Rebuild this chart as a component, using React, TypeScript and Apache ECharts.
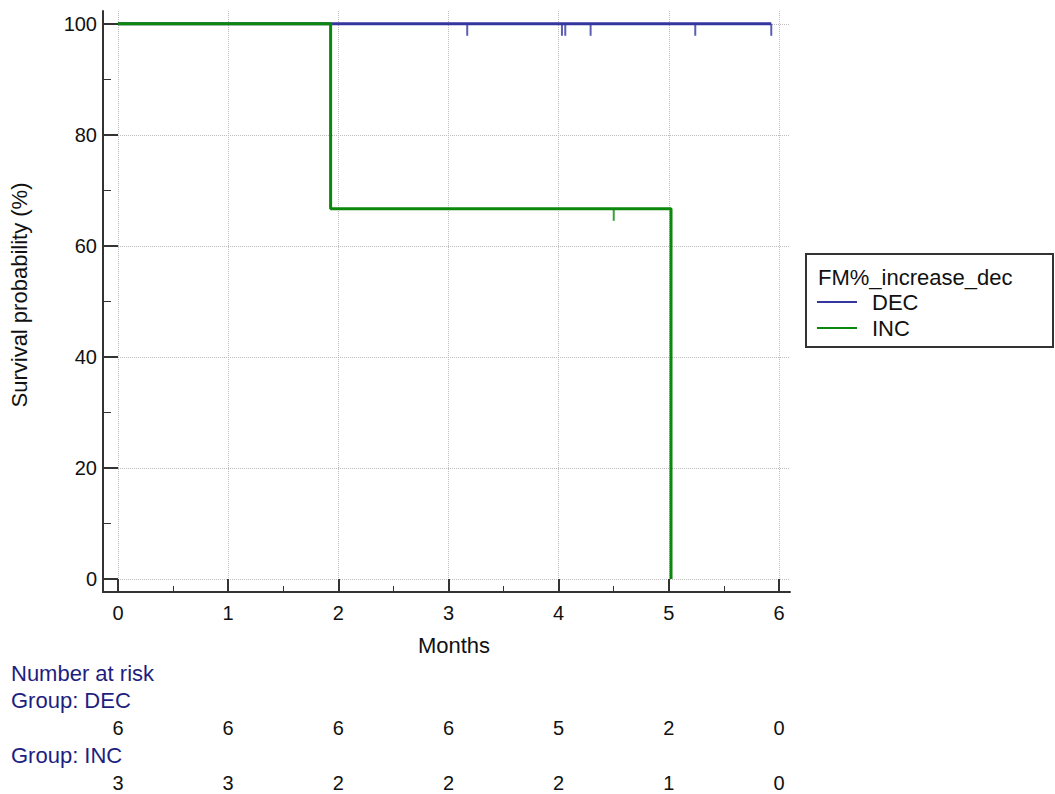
import React, { useEffect, useRef } from 'react';
import * as echarts from 'echarts';

const xTicks = [0, 1, 2, 3, 4, 5, 6];
const xMinorTicks = [0.5, 1.5, 2.5, 3.5, 4.5, 5.5];
const yTicks = [0, 20, 40, 60, 80, 100];
const yMinorTicks = [10, 30, 50, 70, 90];

const groupNames = ['DEC', 'INC'];
const decCurve = [[0, 100], [5.93, 100]];
const incCurve = [[0, 100], [1.93, 100], [1.93, 66.67], [5.02, 66.67], [5.02, 0]];
const decCensored = [[3.17, 100], [4.03, 100], [4.06, 100], [4.29, 100], [5.24, 100], [5.93, 100]];
const incCensored = [[4.5, 66.67]];
const atRiskDEC = [6, 6, 6, 6, 5, 2, 0];
const atRiskINC = [3, 3, 2, 2, 2, 1, 0];

const FONT = 'Liberation Sans, Arial, sans-serif';
const BLUE = '#3535a0';
const GREEN = '#0b880b';
const NAVY = '#1e1e80';
const AXIS = '#333333';
const WORD = 22;
const NUM = 20;

const GRID = { left: 118, top: 11, width: 672, height: 568 };
const X_OFF = 13;
const Y_OFF = 15;

export default function App() {
  const ref = useRef<HTMLDivElement>(null);
  useEffect(() => {
    if (!ref.current) return;
    const chart = echarts.init(ref.current, undefined, { renderer: 'svg' });
    const baseX = {
      type: 'value' as const,
      min: 0,
      max: 6.1,
      position: 'bottom' as const,
      gridIndex: 0,
    };
    const baseY = {
      type: 'value' as const,
      min: 0,
      max: 102.3,
      position: 'left' as const,
      gridIndex: 0,
    };
    const gb = GRID.top + GRID.height;
    const gl = GRID.left;
    chart.setOption({
      animation: false,
      textStyle: { fontFamily: FONT },
      grid: { left: GRID.left, top: GRID.top, width: GRID.width, height: GRID.height },
      xAxis: [
        {
          ...baseX,
          offset: X_OFF,
          name: 'Months',
          nameLocation: 'middle',
          nameGap: 42,
          nameTextStyle: { fontSize: WORD, color: '#111', fontFamily: FONT },
          axisLine: { show: true, onZero: false, lineStyle: { color: AXIS, width: 2 } },
          axisTick: { show: true, inside: true, length: 13, customValues: xTicks, lineStyle: { color: AXIS, width: 2 } },
          axisLabel: { show: true, customValues: xTicks, fontSize: NUM, margin: 11, color: '#111', fontFamily: FONT },
          splitLine: { show: true, lineStyle: { type: 'dotted', color: '#bdbdbd', width: 1 } },
        },
        {
          ...baseX,
          offset: X_OFF,
          axisLine: { show: false, onZero: false },
          axisTick: { show: true, inside: true, length: 6, customValues: xMinorTicks, lineStyle: { color: AXIS, width: 1 } },
          axisLabel: { show: false },
          splitLine: { show: false },
        },
        {
          ...baseX,
          offset: 139,
          axisLine: { show: false, onZero: false },
          axisTick: { show: false },
          axisLabel: {
            show: true, customValues: xTicks, margin: 0, fontSize: NUM, color: '#111', fontFamily: FONT,
            formatter: (v: number) => String(atRiskDEC[Math.round(v)]),
          },
          splitLine: { show: false },
        },
        {
          ...baseX,
          offset: 194,
          axisLine: { show: false, onZero: false },
          axisTick: { show: false },
          axisLabel: {
            show: true, customValues: xTicks, margin: 0, fontSize: NUM, color: '#111', fontFamily: FONT,
            formatter: (v: number) => String(atRiskINC[Math.round(v)]),
          },
          splitLine: { show: false },
        },
      ],
      yAxis: [
        {
          ...baseY,
          offset: Y_OFF,
          name: 'Survival probability (%)',
          nameLocation: 'middle',
          nameGap: 73,
          nameTextStyle: { fontSize: WORD, color: '#111', fontFamily: FONT },
          axisLine: { show: true, onZero: false, lineStyle: { color: AXIS, width: 2 } },
          axisTick: { show: true, inside: true, length: 15, customValues: yTicks, lineStyle: { color: AXIS, width: 2 } },
          axisLabel: { show: true, customValues: yTicks, fontSize: NUM, margin: 6, color: '#111', fontFamily: FONT },
          splitLine: { show: true, lineStyle: { type: 'dotted', color: '#bdbdbd', width: 1 } },
        },
        {
          ...baseY,
          offset: Y_OFF,
          axisLine: { show: false, onZero: false },
          axisTick: { show: true, inside: true, length: 8, customValues: yMinorTicks, lineStyle: { color: AXIS, width: 1 } },
          axisLabel: { show: false },
          splitLine: { show: false },
        },
      ],
      series: [
        {
          name: groupNames[0], type: 'line', data: decCurve, xAxisIndex: 0, yAxisIndex: 0,
          showSymbol: false, lineStyle: { color: BLUE, width: 3 }, itemStyle: { color: BLUE },
        },
        {
          name: groupNames[0] + ' censored', type: 'scatter', data: decCensored, xAxisIndex: 0, yAxisIndex: 0,
          symbol: 'rect', symbolSize: [2, 12], symbolOffset: [0, 6], itemStyle: { color: BLUE },
        },
        {
          name: groupNames[1], type: 'line', data: incCurve, xAxisIndex: 0, yAxisIndex: 0,
          showSymbol: false, lineStyle: { color: GREEN, width: 3 }, itemStyle: { color: GREEN },
        },
        {
          name: groupNames[1] + ' censored', type: 'scatter', data: incCensored, xAxisIndex: 0, yAxisIndex: 0,
          symbol: 'rect', symbolSize: [2, 12], symbolOffset: [0, 6], itemStyle: { color: GREEN },
        },
      ],
      graphic: [
        // close the corner between the offset axes
        { type: 'line', shape: { x1: gl - Y_OFF - 1, y1: gb + X_OFF, x2: gl, y2: gb + X_OFF }, style: { stroke: AXIS, lineWidth: 2 } },
        { type: 'line', shape: { x1: gl - Y_OFF, y1: gb, x2: gl - Y_OFF, y2: gb + X_OFF }, style: { stroke: AXIS, lineWidth: 2 } },
        // legend
        { type: 'rect', shape: { x: 806, y: 254, width: 247, height: 93 }, style: { fill: '#fff', stroke: AXIS, lineWidth: 2 } },
        { type: 'text', x: 818, y: 277, style: { text: 'FM%_increase_dec', fontSize: WORD, fontFamily: FONT, fill: '#111', verticalAlign: 'middle' } },
        { type: 'line', shape: { x1: 817, y1: 302, x2: 857, y2: 302 }, style: { stroke: BLUE, lineWidth: 2 } },
        { type: 'text', x: 872, y: 302, style: { text: groupNames[0], fontSize: WORD, fontFamily: FONT, fill: '#111', verticalAlign: 'middle' } },
        { type: 'line', shape: { x1: 817, y1: 328, x2: 857, y2: 328 }, style: { stroke: GREEN, lineWidth: 2 } },
        { type: 'text', x: 872, y: 328, style: { text: groupNames[1], fontSize: WORD, fontFamily: FONT, fill: '#111', verticalAlign: 'middle' } },
        // number at risk
        { type: 'text', x: 11, y: 673, style: { text: 'Number at risk', fontSize: WORD, fontFamily: FONT, fill: NAVY, verticalAlign: 'middle' } },
        { type: 'text', x: 11, y: 700, style: { text: 'Group: ' + groupNames[0], fontSize: WORD, fontFamily: FONT, fill: NAVY, verticalAlign: 'middle' } },
        { type: 'text', x: 11, y: 755, style: { text: 'Group: ' + groupNames[1], fontSize: WORD, fontFamily: FONT, fill: NAVY, verticalAlign: 'middle' } },
      ],
    });
    return () => chart.dispose();
  }, []);
  return <div ref={ref} style={{ position: 'absolute', left: 0, top: 0, width: 1055, height: 794 }} />;
}
